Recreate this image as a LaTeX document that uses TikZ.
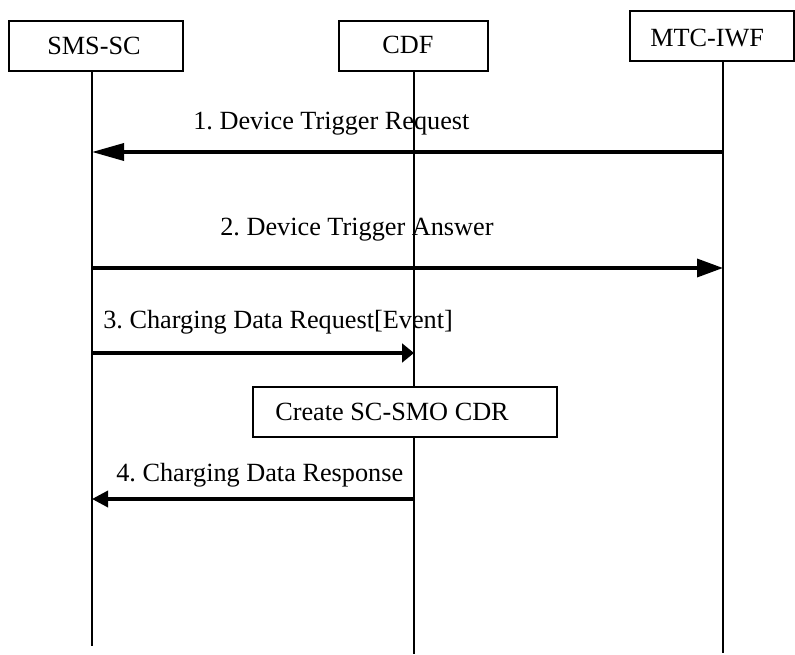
\documentclass[tikz,border=0pt]{standalone}
\usepackage{fontspec}
\setmainfont{Liberation Serif}
\usetikzlibrary{arrows.meta,positioning}
\tikzset{>=Triangle}
\frenchspacing

\begin{document}
\begin{tikzpicture}[x=0.75pt,y=-0.75pt,
    font=\fontsize{19.7}{23}\selectfont,
    actor/.style={draw,line width=1.5pt,minimum height=37.5pt,inner sep=0pt},
    life/.style={line width=1.5pt},
    msg/.style={line width=2.6pt},
    lbl/.style={anchor=base west,inner sep=0pt}]
  \useasboundingbox (0,0) rectangle (795,655);

  % entities
  \node [actor, minimum width=130.5pt] (smssc) at (96,46) {};
  \node [actor, minimum width=111.75pt] (cdf) at (413.5,46) {};
  \node [actor, minimum width=123pt] (mtciwf) at (712,36) {};
  \node [lbl] (smssctxt) at (47,55) {SMS-SC};
  \node [lbl] (cdftxt) at (382,54) {CDF};
  \node [lbl] (mtciwftxt) at (650,47) {MTC-IWF};

  % message labels
  \node [lbl] (req) at (193,130) {1. Device Trigger Request};
  \node [lbl] (ans) at (220,236) {2. Device Trigger Answer};
  \node [lbl] (cdreq) at (103,329) {3. Charging Data Request[Event]};
  \node [lbl] (cdres) at (116,481) {4. Charging Data Response};

  % lifelines
  \coordinate (smsscend) at (92,646);
  \coordinate (cdfend) at (414,654);
  \coordinate (mtciwfend) at (723,653);
  \draw[life] (smssc.south -| smsscend) -- (smsscend);
  \draw[life] (cdf.south -| cdfend) -- (cdfend);
  \draw[life] (mtciwf.south -| mtciwfend) -- (mtciwfend);

  \node [actor, fill=white, minimum width=228pt] (cdr) at (405,412) {};
  \node [lbl] (cdrtxt) at (275,421) {Create SC-SMO CDR};

  % messages
  \draw[msg,-{Triangle[length=24pt,width=12.75pt]}] (mtciwfend |- 0,152) -- (smsscend |- 0,152);
  \draw[msg,-{Triangle[length=19.5pt,width=13.5pt]}] (smsscend |- 0,268) -- (mtciwfend |- 0,268);
  \draw[msg,-{Triangle[length=9pt,width=14pt]}] (smsscend |- 0,353) -- (cdfend |- 0,353);
  \draw[msg,-{Triangle[length=12pt,width=12pt]}] (cdfend |- 0,499) -- (smsscend |- 0,499);
\end{tikzpicture}
\end{document}
